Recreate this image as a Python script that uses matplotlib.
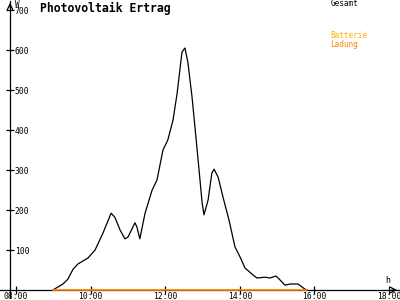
import matplotlib
matplotlib.use("Agg")
import matplotlib.pyplot as plt

# time of day in hours
hours = [8.99, 9.26, 9.39, 9.53, 9.66, 9.93, 10.12, 10.33, 10.55, 10.65, 10.79, 10.92,
         11.00, 11.19, 11.24, 11.32, 11.46, 11.65, 11.78, 11.94, 12.07, 12.21, 12.32,
         12.45, 12.53, 12.61, 12.72, 12.85, 12.99, 13.04, 13.15, 13.25, 13.31, 13.42,
         13.55, 13.71, 13.87, 14.01, 14.14, 14.35, 14.46, 14.68, 14.81, 14.97, 15.08,
         15.21, 15.35, 15.56, 15.75, 15.80]
gesamt = [0, 15, 27, 52, 65, 80, 100, 142, 192, 182, 150, 128,
          132, 168, 158, 128, 192, 250, 275, 350, 375, 425, 492,
          595, 605, 568, 482, 357, 218, 188, 225, 292, 302, 282,
          232, 175, 108, 82, 55, 38, 30, 32, 30, 35, 25,
          12, 15, 15, 2, 0]
ladung = [0] * len(hours)

x_ticks = [8, 10, 12, 14, 16, 18]
x_labels = ["08:00", "10:00", "12:00", "14:00", "16:00", "18:00"]
y_ticks = [100, 200, 300, 400, 500, 600, 700]
y_labels = ["100", "200", "300", "400", "500", "600", "700"]

title = "Photovoltaik Ertrag"
legend_items = [("Gesamt", "#000000"), ("Batterie", "#FFB000"), ("Ladung", "#FF8000")]

mono = "DejaVu Sans Mono"

fig = plt.figure(figsize=(4, 3), dpi=100)
ax = fig.add_axes([0, 0, 1, 1])
ax.set_xlim(7.571, 18.295)
ax.set_ylim(-25, 725)

ax.plot(hours, gesamt, color="black", lw=0.9, zorder=3)
ax.plot(hours, ladung, color="#FF8000", lw=1.2, zorder=4)

for s in ["top", "right"]:
    ax.spines[s].set_visible(False)
ax.spines["left"].set_position(("data", 7.84))
ax.spines["bottom"].set_position(("data", 0))
ax.spines["left"].set_bounds(-18, 722)
ax.spines["left"].set_linewidth(0.9)
ax.spines["bottom"].set_linewidth(0.9)

ax.set_xticks(x_ticks)
ax.set_xticklabels(x_labels, fontfamily=mono, fontsize=5.8)
ax.set_yticks(y_ticks)
ax.set_yticklabels(y_labels, fontfamily=mono, fontsize=5.8)
ax.tick_params(axis="both", direction="inout", length=6, width=0.9)
ax.tick_params(axis="x", pad=-1.5)
ax.tick_params(axis="y", pad=-6.5)
for lbl in ax.get_yticklabels():
    lbl.set_ha("left")

# axis arrows
ax.annotate("", xy=(7.84, 725), xytext=(7.84, 700),
            arrowprops=dict(arrowstyle="->", lw=0.9, color="black"))
ax.annotate("", xy=(18.295, 0), xytext=(18.0, 0),
            arrowprops=dict(arrowstyle="->", lw=0.9, color="black"))

ax.text(7.97, 713, "W", fontfamily=mono, fontsize=5.5, ha="left", va="center")
ax.text(17.9, 24, "h", fontfamily=mono, fontsize=6, ha="left", va="center")

ax.text(8.64, 705, title, fontfamily=mono, fontsize=8.3, fontweight="bold",
        ha="left", va="center")

ly = [715, 635, 615]
for (name, col), yy in zip(legend_items, ly):
    ax.text(16.43, yy, name, fontfamily=mono, fontsize=5.6, color=col,
            ha="left", va="center")

fig.savefig("out.png", dpi=100)
